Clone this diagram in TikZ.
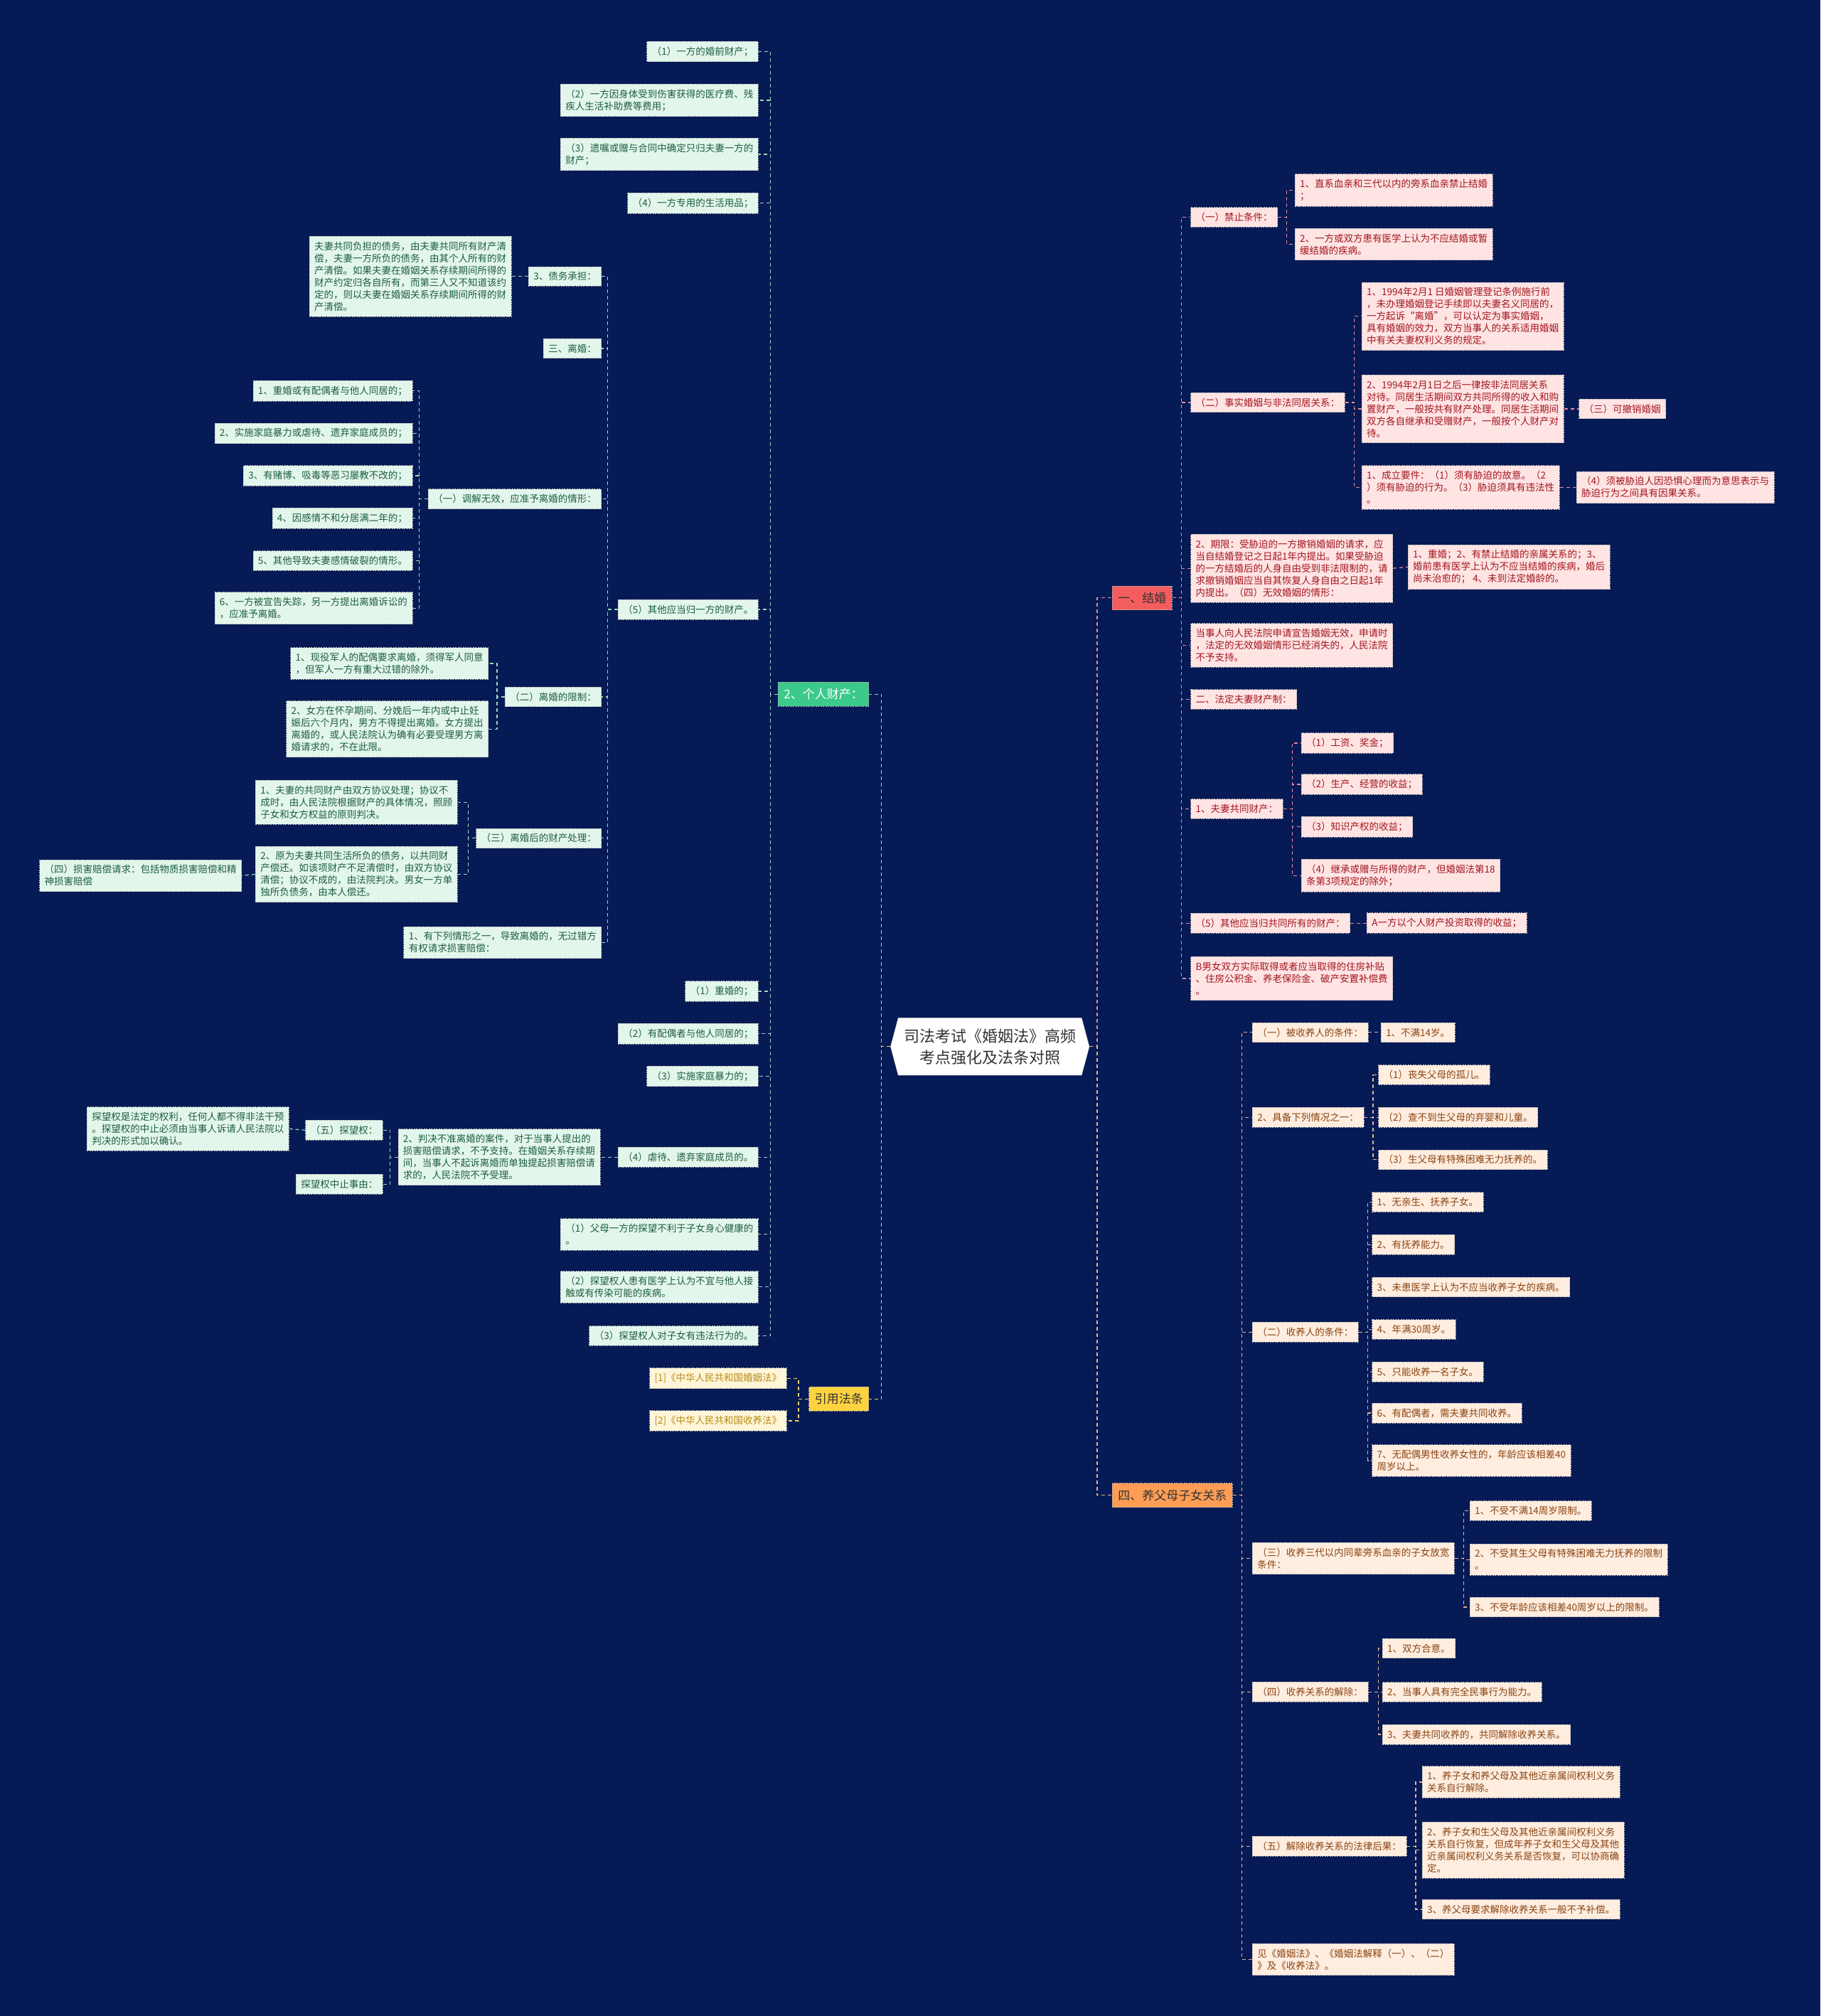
\documentclass[tikz,border=0pt]{standalone}
\usepackage{fontspec}
\newfontfamily\cjk{Noto Sans CJK SC}
\usepackage{xcolor}
\usepackage{tikz}
\usetikzlibrary{shapes.symbols}

\definecolor{bgblue}{HTML}{061A55}
\definecolor{mintfill}{HTML}{E3F6EC}
\definecolor{minttext}{HTML}{1D5E3F}
\definecolor{mintline}{HTML}{9AD8BC}
\definecolor{greenhead}{HTML}{3CC98C}
\definecolor{redfill}{HTML}{FFE4E4}
\definecolor{redtext}{HTML}{A2161E}
\definecolor{redline}{HTML}{E7899A}
\definecolor{redhead}{HTML}{F45D5D}
\definecolor{peachfill}{HTML}{FFEDE0}
\definecolor{peachtext}{HTML}{8A4410}
\definecolor{peachline}{HTML}{E3B48E}
\definecolor{orangehead}{HTML}{FF9D55}
\definecolor{yellowfill}{HTML}{FFF6DA}
\definecolor{yellowtext}{HTML}{B88A12}
\definecolor{yellowline}{HTML}{F0CF70}
\definecolor{yellowhead}{HTML}{FFD23F}

\newcommand\leaffont{\cjk\fontsize{13.5}{17}\selectfont}
\newcommand\headfont{\cjk\fontsize{17}{21}\selectfont}
\newcommand\rootfont{\cjk\fontsize{22}{30}\selectfont}

\begin{document}
\begin{tikzpicture}[x=1.808pt, y=-1.808pt,
    box/.style={rectangle, draw=gray!60, dash pattern=on 2pt off 1.5pt, line width=0.8pt,
        inner xsep=7pt, inner ysep=7.5pt, align=left, font=\leaffont},
    leafgreen/.style={box, fill=mintfill, text=minttext},
    leafred/.style={box, fill=redfill, text=redtext},
    leaforange/.style={box, fill=peachfill, text=peachtext},
    leafyellow/.style={box, fill=yellowfill, text=yellowtext},
    head/.style={box, inner xsep=8pt, inner ysep=9pt, font=\headfont},
    rootnode/.style={signal, signal to=west and east, signal pointer angle=150,
        fill=white, draw=gray!50, inner xsep=8pt, inner ysep=15pt, align=center,
        font=\rootfont, text=black!80},
    link/.style={line width=1.2pt, dash pattern=on 5pt off 4pt},
    linkgreen/.style={link, draw=mintline},
    linkred/.style={link, draw=redline},
    linkorange/.style={link, draw=peachline},
    linkyellow/.style={link, draw=yellowline}]

    \fill[bgblue] (0,0) rectangle (1416,1568);
    \useasboundingbox (0,0) rectangle (1416,1568);

    % centre
    \node[rootnode] (root) at (770,814) {司法考试《婚姻法》高频\\考点强化及法条对照};

    % main topics
    \node[head, fill=greenhead, text=white, anchor=east] (gA) at (676,540) {2、个人财产：};
    \node[head, fill=yellowhead, text=black!80, anchor=east] (yA) at (676,1088) {引用法条};
    \node[head, fill=redhead, text=black!80, anchor=west] (rA) at (865,465) {一、结婚};
    \node[head, fill=orangehead, text=black!80, anchor=west] (oA) at (865,1163) {四、养父母子女关系};

    % 2、个人财产
    \node[leafgreen, anchor=east] (p1) at (590,40) {（1）一方的婚前财产；};
    \node[leafgreen, anchor=east] (p2) at (590,78) {（2）一方因身体受到伤害获得的医疗费、残\\疾人生活补助费等费用；};
    \node[leafgreen, anchor=east] (p3) at (590,120) {（3）遗嘱或赠与合同中确定只归夫妻一方的\\财产；};
    \node[leafgreen, anchor=east] (p4) at (590,158) {（4）一方专用的生活用品；};
    \node[leafgreen, anchor=east] (p5) at (590,474) {（5）其他应当归一方的财产。};
    \node[leafgreen, anchor=east] (q1) at (590,771) {（1）重婚的；};
    \node[leafgreen, anchor=east] (q2) at (590,804) {（2）有配偶者与他人同居的；};
    \node[leafgreen, anchor=east] (q3) at (590,837) {（3）实施家庭暴力的；};
    \node[leafgreen, anchor=east] (q4) at (590,900) {（4）虐待、遗弃家庭成员的。};
    \node[leafgreen, anchor=east] (v1) at (590,960) {（1）父母一方的探望不利于子女身心健康的\\。};
    \node[leafgreen, anchor=east] (v2) at (590,1001) {（2）探望权人患有医学上认为不宜与他人接\\触或有传染可能的疾病。};
    \node[leafgreen, anchor=east] (v3) at (590,1039) {（3）探望权人对子女有违法行为的。};

    % (5) 其他应当归一方的财产
    \node[leafgreen, anchor=east] (debt) at (468,215) {3、债务承担：};
    \node[leafgreen, anchor=east] (debtText) at (398,215) {夫妻共同负担的债务，由夫妻共同所有财产清\\偿，夫妻一方所负的债务，由其个人所有的财\\产清偿。如果夫妻在婚姻关系存续期间所得的\\财产约定归各自所有，而第三人又不知道该约\\定的，则以夫妻在婚姻关系存续期间所得的财\\产清偿。};
    \node[leafgreen, anchor=east] (div) at (468,271) {三、离婚：};
    \node[leafgreen, anchor=east] (divA) at (468,388) {（一）调解无效，应准予离婚的情形：};
    \node[leafgreen, anchor=east] (divB) at (468,542) {（二）离婚的限制：};
    \node[leafgreen, anchor=east] (divC) at (468,652) {（三）离婚后的财产处理：};
    \node[leafgreen, anchor=east] (comp) at (468,733) {1、有下列情形之一，导致离婚的，无过错方\\有权请求损害赔偿：};

    \node[leafgreen, anchor=east] (a1) at (321,304) {1、重婚或有配偶者与他人同居的；};
    \node[leafgreen, anchor=east] (a2) at (321,337) {2、实施家庭暴力或虐待、遗弃家庭成员的；};
    \node[leafgreen, anchor=east] (a3) at (321,370) {3、有赌博、吸毒等恶习屡教不改的；};
    \node[leafgreen, anchor=east] (a4) at (321,403) {4、因感情不和分居满二年的；};
    \node[leafgreen, anchor=east] (a5) at (321,436) {5、其他导致夫妻感情破裂的情形。};
    \node[leafgreen, anchor=east] (a6) at (321,473) {6、一方被宣告失踪，另一方提出离婚诉讼的\\，应准予离婚。};

    \node[leafgreen, anchor=east] (b1) at (380,516) {1、现役军人的配偶要求离婚，须得军人同意\\，但军人一方有重大过错的除外。};
    \node[leafgreen, anchor=east] (b2) at (380,567) {2、女方在怀孕期间、分娩后一年内或中止妊\\娠后六个月内，男方不得提出离婚。女方提出\\离婚的，或人民法院认为确有必要受理男方离\\婚请求的，不在此限。};

    \node[leafgreen, anchor=east] (c1) at (356,624) {1、夫妻的共同财产由双方协议处理；协议不\\成时，由人民法院根据财产的具体情况，照顾\\子女和女方权益的原则判决。};
    \node[leafgreen, anchor=east] (c2) at (356,680) {2、原为夫妻共同生活所负的债务，以共同财\\产偿还。如该项财产不足清偿时，由双方协议\\清偿；协议不成的，由法院判决。男女一方单\\独所负债务，由本人偿还。};
    \node[leafgreen, anchor=east] (c2x) at (188,681) {（四）损害赔偿请求：包括物质损害赔偿和精\\神损害赔偿};

    % (4) 虐待、遗弃家庭成员的
    \node[leafgreen, anchor=east] (judge) at (467,900) {2、判决不准离婚的案件，对于当事人提出的\\损害赔偿请求，不予支持。在婚姻关系存续期\\间，当事人不起诉离婚而单独提起损害赔偿请\\求的，人民法院不予受理。};
    \node[leafgreen, anchor=east] (visit) at (298,879) {（五）探望权：};
    \node[leafgreen, anchor=east] (stop) at (298,921) {探望权中止事由：};
    \node[leafgreen, anchor=east] (visitText) at (225,878) {探望权是法定的权利，任何人都不得非法干预\\。探望权的中止必须由当事人诉请人民法院以\\判决的形式加以确认。};

    % 引用法条
    \node[leafyellow, anchor=east] (law1) at (612,1072) {[1]《中华人民共和国婚姻法》};
    \node[leafyellow, anchor=east] (law2) at (612,1105) {[2]《中华人民共和国收养法》};

    % 一、结婚
    \node[leafred, anchor=west] (ban) at (926,169) {（一）禁止条件：};
    \node[leafred, anchor=west] (fact) at (926,313) {（二）事实婚姻与非法同居关系：};
    \node[leafred, anchor=west] (term) at (926,442) {2、期限：受胁迫的一方撤销婚姻的请求，应\\当自结婚登记之日起1年内提出。如果受胁迫\\的一方结婚后的人身自由受到非法限制的，请\\求撤销婚姻应当自其恢复人身自由之日起1年\\内提出。（四）无效婚姻的情形：};
    \node[leafred, anchor=west] (void) at (926,502) {当事人向人民法院申请宣告婚姻无效，申请时\\，法定的无效婚姻情形已经消失的，人民法院\\不予支持。};
    \node[leafred, anchor=west] (prop) at (926,544) {二、法定夫妻财产制：};
    \node[leafred, anchor=west] (comm) at (926,629) {1、夫妻共同财产：};
    \node[leafred, anchor=west] (other) at (926,718) {（5）其他应当归共同所有的财产：};
    \node[leafred, anchor=west] (house) at (926,761) {B男女双方实际取得或者应当取得的住房补贴\\、住房公积金、养老保险金、破产安置补偿费\\。};

    \node[leafred, anchor=west] (ban1) at (1007,148) {1、直系血亲和三代以内的旁系血亲禁止结婚\\；};
    \node[leafred, anchor=west] (ban2) at (1007,190) {2、一方或双方患有医学上认为不应结婚或暂\\缓结婚的疾病。};

    \node[leafred, anchor=west] (f1) at (1059,246) {1、1994年2月1 日婚姻管理登记条例施行前\\，未办理婚姻登记手续即以夫妻名义同居的，\\一方起诉“离婚”，可以认定为事实婚姻，\\具有婚姻的效力，双方当事人的关系适用婚姻\\中有关夫妻权利义务的规定。};
    \node[leafred, anchor=west] (f2) at (1059,318) {2、1994年2月1日之后一律按非法同居关系\\对待。同居生活期间双方共同所得的收入和购\\置财产，一般按共有财产处理。同居生活期间\\双方各自继承和受赠财产，一般按个人财产对\\待。};
    \node[leafred, anchor=west] (f3) at (1059,379) {1、成立要件：（1）须有胁迫的故意。（2\\）须有胁迫的行为。（3）胁迫须具有违法性\\。};
    \node[leafred, anchor=west] (revoke) at (1228,318) {（三）可撤销婚姻};
    \node[leafred, anchor=west] (f3x) at (1226,379) {（4）须被胁迫人因恐惧心理而为意思表示与\\胁迫行为之间具有因果关系。};

    \node[leafred, anchor=west] (termx) at (1095,441) {1、重婚；2、有禁止结婚的亲属关系的；3、\\婚前患有医学上认为不应当结婚的疾病，婚后\\尚未治愈的； 4、未到法定婚龄的。};

    \node[leafred, anchor=west] (m1) at (1012,578) {（1）工资、奖金；};
    \node[leafred, anchor=west] (m2) at (1012,610) {（2）生产、经营的收益；};
    \node[leafred, anchor=west] (m3) at (1012,643) {（3）知识产权的收益；};
    \node[leafred, anchor=west] (m4) at (1012,681) {（4）继承或赠与所得的财产，但婚姻法第18\\条第3项规定的除外；};
    \node[leafred, anchor=west] (otherx) at (1063,718) {A一方以个人财产投资取得的收益；};

    % 四、养父母子女关系
    \node[leaforange, anchor=west] (k1) at (974,803) {（一）被收养人的条件：};
    \node[leaforange, anchor=west] (k2) at (974,869) {2、具备下列情况之一：};
    \node[leaforange, anchor=west] (k3) at (974,1036) {（二）收养人的条件：};
    \node[leaforange, anchor=west] (k4) at (974,1212) {（三）收养三代以内同辈旁系血亲的子女放宽\\条件：};
    \node[leaforange, anchor=west] (k5) at (974,1316) {（四）收养关系的解除：};
    \node[leaforange, anchor=west] (k6) at (974,1436) {（五）解除收养关系的法律后果：};
    \node[leaforange, anchor=west] (k7) at (974,1524) {见《婚姻法》、《婚姻法解释（一）、（二）\\》及《收养法》。};

    \node[leaforange, anchor=west] (k1x) at (1074,803) {1、不满14岁。};
    \node[leaforange, anchor=west] (k2a) at (1072,836) {（1）丧失父母的孤儿。};
    \node[leaforange, anchor=west] (k2b) at (1072,869) {（2）查不到生父母的弃婴和儿童。};
    \node[leaforange, anchor=west] (k2c) at (1072,902) {（3）生父母有特殊困难无力抚养的。};

    \node[leaforange, anchor=west] (k3a) at (1067,935) {1、无亲生、抚养子女。};
    \node[leaforange, anchor=west] (k3b) at (1067,968) {2、有抚养能力。};
    \node[leaforange, anchor=west] (k3c) at (1067,1001) {3、未患医学上认为不应当收养子女的疾病。};
    \node[leaforange, anchor=west] (k3d) at (1067,1034) {4、年满30周岁。};
    \node[leaforange, anchor=west] (k3e) at (1067,1067) {5、只能收养一名子女。};
    \node[leaforange, anchor=west] (k3f) at (1067,1099) {6、有配偶者，需夫妻共同收养。};
    \node[leaforange, anchor=west] (k3g) at (1067,1136) {7、无配偶男性收养女性的，年龄应该相差40\\周岁以上。};

    \node[leaforange, anchor=west] (k4a) at (1143,1175) {1、不受不满14周岁限制。};
    \node[leaforange, anchor=west] (k4b) at (1143,1213) {2、不受其生父母有特殊困难无力抚养的限制\\。};
    \node[leaforange, anchor=west] (k4c) at (1143,1250) {3、不受年龄应该相差40周岁以上的限制。};

    \node[leaforange, anchor=west] (k5a) at (1075,1282) {1、双方合意。};
    \node[leaforange, anchor=west] (k5b) at (1075,1316) {2、当事人具有完全民事行为能力。};
    \node[leaforange, anchor=west] (k5c) at (1075,1349) {3、夫妻共同收养的，共同解除收养关系。};

    \node[leaforange, anchor=west] (k6a) at (1106,1386) {1、养子女和养父母及其他近亲属间权利义务\\关系自行解除。};
    \node[leaforange, anchor=west] (k6b) at (1106,1439) {2、养子女和生父母及其他近亲属间权利义务\\关系自行恢复，但成年养子女和生父母及其他\\近亲属间权利义务关系是否恢复，可以协商确\\定。};
    \node[leaforange, anchor=west] (k6c) at (1106,1485) {3、养父母要求解除收养关系一般不予补偿。};

    % connectors from the centre
    \draw[linkgreen] (root.west) -- ++(-7,0) |- (gA.east);
    \draw[linkyellow] (root.west) -- ++(-7,0) |- (yA.east);
    \draw[linkred] (root.east) -- ++(6,0) |- (rA.west);
    \draw[linkorange] (root.east) -- ++(6,0) |- (oA.west);

    % left side
    \foreach \c in {p1,p2,p3,p4,p5,q1,q2,q3,q4,v1,v2,v3}
        \draw[linkgreen] (gA.west) -- ++(-6,0) |- (\c.east);
    \foreach \c in {debt,div,divA,divB,divC,comp}
        \draw[linkgreen] (p5.west) -- ++(-8,0) |- (\c.east);
    \draw[linkgreen] (debt.west) -- (debtText.east);
    \foreach \c in {a1,a2,a3,a4,a5,a6}
        \draw[linkgreen] (divA.west) -- ++(-7,0) |- (\c.east);
    \foreach \c in {b1,b2}
        \draw[linkgreen] (divB.west) -- ++(-6,0) |- (\c.east);
    \foreach \c in {c1,c2}
        \draw[linkgreen] (divC.west) -- ++(-6,0) |- (\c.east);
    \draw[linkgreen] (c2.west) -- (c2x.east);
    \draw[linkgreen] (q4.west) -- (judge.east);
    \foreach \c in {visit,stop}
        \draw[linkgreen] (judge.west) -- ++(-6,0) |- (\c.east);
    \draw[linkgreen] (visit.west) -- (visitText.east);
    \foreach \c in {law1,law2}
        \draw[linkyellow] (yA.west) -- ++(-8,0) |- (\c.east);

    % right side
    \foreach \c in {ban,fact,term,void,prop,comm,other,house}
        \draw[linkred] (rA.east) -- ++(7,0) |- (\c.west);
    \foreach \c in {ban1,ban2}
        \draw[linkred] (ban.east) -- ++(7,0) |- (\c.west);
    \foreach \c in {f1,f2,f3}
        \draw[linkred] (fact.east) -- ++(7,0) |- (\c.west);
    \draw[linkred] (f2.east) -- (revoke.west);
    \draw[linkred] (f3.east) -- (f3x.west);
    \draw[linkred] (term.east) -- (termx.west);
    \foreach \c in {m1,m2,m3,m4}
        \draw[linkred] (comm.east) -- ++(7,0) |- (\c.west);
    \draw[linkred] (other.east) -- (otherx.west);

    \foreach \c in {k1,k2,k3,k4,k5,k6,k7}
        \draw[linkorange] (oA.east) -- ++(7,0) |- (\c.west);
    \draw[linkorange] (k1.east) -- (k1x.west);
    \foreach \c in {k2a,k2b,k2c}
        \draw[linkorange] (k2.east) -- ++(7,0) |- (\c.west);
    \foreach \c in {k3a,k3b,k3c,k3d,k3e,k3f,k3g}
        \draw[linkorange] (k3.east) -- ++(7,0) |- (\c.west);
    \foreach \c in {k4a,k4b,k4c}
        \draw[linkorange] (k4.east) -- ++(7,0) |- (\c.west);
    \foreach \c in {k5a,k5b,k5c}
        \draw[linkorange] (k5.east) -- ++(8,0) |- (\c.west);
    \foreach \c in {k6a,k6b,k6c}
        \draw[linkorange] (k6.east) -- ++(7,0) |- (\c.west);
\end{tikzpicture}
\end{document}
